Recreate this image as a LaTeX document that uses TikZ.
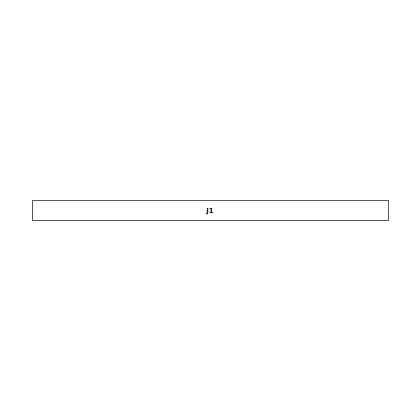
\documentclass[tikz,border=0pt]{standalone}
\usepackage{fontspec}
\setmainfont{DejaVu Sans}[BoldFont={DejaVu Sans Bold}]
\begin{document}
\begin{tikzpicture}[x=1pt,y=-1pt,
  jbox/.style={draw=black!65, line width=1pt, fill=white, minimum width=356pt, minimum height=20pt, inner sep=0pt, font=\fontsize{7}{8}\selectfont\bfseries, text=black!90, text depth=0pt}]
\useasboundingbox (0,0) rectangle (420,420);
\node[jbox] (j1) at (210,210) {\raisebox{-1pt}{J1}};
\end{tikzpicture}
\end{document}
